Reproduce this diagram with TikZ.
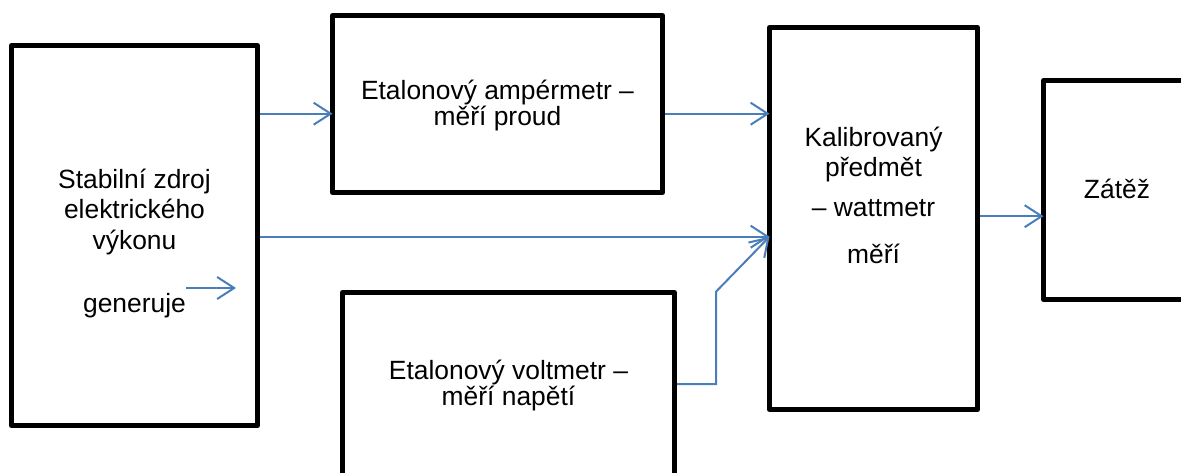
\documentclass[tikz,border=0pt]{standalone}
\usepackage{fontspec}
\setmainfont{Liberation Sans}
\usetikzlibrary{arrows.meta,calc}
\definecolor{conblue}{HTML}{4A7EBB}
\newcommand{\lblfont}[1]{\fontsize{26.4}{#1}\selectfont\lineskiplimit=-100pt\relax}
\tikzset{
  box/.style={draw=black,line width=5pt,line join=round,inner sep=0pt,outer sep=0pt},
  lbl/.style={anchor=base,align=center,inner sep=0pt,font=\lblfont{30.5}},
  conn/.style={draw=conblue,line width=2pt,-{Straight Barb[length=17pt,width=22pt,line width=2pt]}},
}
\begin{document}
\begin{tikzpicture}[x=1pt,y=-1pt]
\useasboundingbox (0,0) rectangle (1181,473);
\clip (0,0) rectangle (1181,473);
% boxes
\node[box,minimum width=246pt,minimum height=380pt] (src) at (134.5,235.5) {};
\node[box,minimum width=330pt,minimum height=177pt] (amp) at (497.5,104) {};
\node[box,minimum width=332pt,minimum height=227.5pt] (volt) at (508.5,406.25) {};
\node[box,minimum width=208pt,minimum height=382pt] (cal) at (873.5,218.5) {};
\node[box,minimum width=147pt,minimum height=219pt] (load) at (1117,190) {};
% texts (anchored at the baseline of the last line)
\node[lbl] (srcT) at (134.5,312) {Stabilní zdroj\\elektrického\\výkonu\\[32.2pt]generuje};
\node[lbl,font=\lblfont{26.5}] (ampT) at (497.5,125.7) {Etalonový ampérmetr –\\měří proud};
\node[lbl,font=\lblfont{26.7}] (voltT) at (508.5,405.7) {Etalonový voltmetr –\\měří napětí};
\node[lbl,font=\lblfont{30}] (calT) at (873.5,263.3) {Kalibrovaný\\předmět\\[10pt]– wattmetr\\[16.7pt]měří};
\node[lbl] (loadT) at (1117,199) {Zátěž};
% connector points
\coordinate (a1) at ([yshift=-9.7pt]amp.west);
\coordinate (a2) at ([yshift=-9.7pt]amp.east);
\coordinate (c1) at ([yshift=-18.2pt]cal.west);
\coordinate (v1) at ([yshift=22.25pt]volt.east);
\coordinate (k1) at ([yshift=2.3pt]cal.east);
\coordinate (g1) at (186,288);
\coordinate (g2) at (236,288);
% connectors
\draw[conn,shorten <=2.5pt] (src.east |- a1) -- (a1);
\draw[conn,shorten <=2.5pt] (a2) -- (cal.west |- a2);
\draw[conn,shorten <=2.5pt] (src.east |- c1) -- (c1);
\draw[conn,shorten <=2.5pt,line join=miter] (v1) -- ++(41.5,0) -- ++(0,-92.3) -- (c1);
\draw[conn,shorten <=2.5pt] (k1) -- (load.west |- k1);
\draw[conn] (g1) -- (g2);
\end{tikzpicture}
\end{document}
